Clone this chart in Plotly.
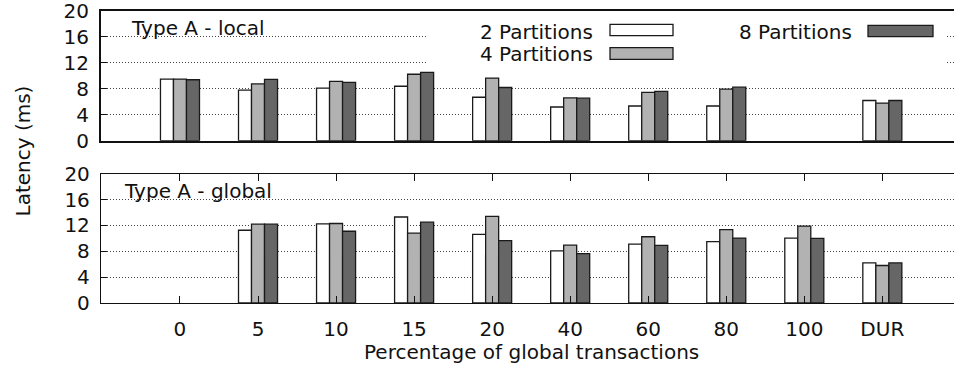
import plotly.graph_objects as go

# Categories (percentage of global transactions) and latency per partition count
categories = ["0", "5", "10", "15", "20", "40", "60", "80", "100", "DUR"]
series_names = ["2 Partitions", "4 Partitions", "8 Partitions"]

local_2 = [9.5, 7.8, 8.1, 8.4, 6.7, 5.2, 5.35, 5.35, None, 6.2]
local_4 = [9.5, 8.75, 9.15, 10.25, 9.65, 6.6, 7.45, 7.95, None, 5.8]
local_8 = [9.4, 9.45, 9.0, 10.55, 8.2, 6.55, 7.6, 8.25, None, 6.2]

global_2 = [None, 11.25, 12.25, 13.3, 10.6, 8.05, 9.1, 9.5, 10.05, 6.2]
global_4 = [None, 12.2, 12.3, 10.8, 13.4, 8.95, 10.25, 11.35, 11.9, 5.8]
global_8 = [None, 12.2, 11.1, 12.5, 9.65, 7.65, 8.9, 10.05, 10.0, 6.2]

y_ticks = [0, 4, 8, 12, 16, 20]

fills = ["#ffffff", "#b2b2b2", "#666666"]
FONT = "DejaVu Sans"
W, H = 954, 379
L, R, T, B = 101, 0, 11, 76
PW, PH = W - L - R, H - T - B


def px_x(px):
    return (px - L) / PW


def px_y(py):
    return (H - B - py) / PH


xs = list(range(len(categories)))
fig = go.Figure()

panels = [
    ([local_2, local_4, local_8], "x", "y"),
    ([global_2, global_4, global_8], "x2", "y2"),
]
for values, xa, ya in panels:
    for name, vals, col in zip(series_names, values, fills):
        fig.add_trace(go.Bar(
            x=xs, y=vals, name=name, xaxis=xa, yaxis=ya,
            marker=dict(color=col, line=dict(color="#1a1a1a", width=1.3)),
            showlegend=False,
        ))

top_dom = [px_y(140.7), 1.0]
bot_dom = [0.0, px_y(173.7)]
x_range = [-1.012, -1.012 + PW / 78.04]

grid = dict(showgrid=True, gridcolor="#444444", gridwidth=1, griddash="1px,2px")
ytick_style = dict(range=[0, 20], tickvals=y_ticks, ticks="inside", ticklen=6,
                   tickcolor="#111", showline=True, linecolor="#111",
                   zeroline=False, tickfont=dict(family=FONT, size=20, color="#111"),
                   ticklabelstandoff=6, ticklabeloverflow="allow", **grid)

fig.update_layout(
    width=W, height=H,
    margin=dict(l=L, r=R, t=T, b=B, pad=0),
    paper_bgcolor="white", plot_bgcolor="white",
    barmode="group", bargap=0.5, bargroupgap=0.0,
    xaxis=dict(domain=[0, 1], range=x_range, anchor="y", showticklabels=False,
               ticks="", showline=True, mirror=True, linecolor="#111", linewidth=2,
               showgrid=False, zeroline=False, tickvals=xs),
    yaxis=dict(domain=top_dom, anchor="x", linewidth=2, **ytick_style),
    xaxis2=dict(domain=[0, 1], range=x_range, anchor="y2", tickvals=xs,
                ticktext=categories, ticks="inside", ticklen=7, tickcolor="#111",
                showline=True, mirror="ticks", linecolor="#111", linewidth=1.3,
                showgrid=False, zeroline=False, ticklabelstandoff=8,
                tickfont=dict(family=FONT, size=20, color="#111")),
    yaxis2=dict(domain=bot_dom, anchor="x2", linewidth=1.3, **ytick_style),
    font=dict(family=FONT, size=20, color="#111"),
)


def dx(px):
    return x_range[0] + (px - L) / 78.04


def dy_top(py):
    return (140.7 - py) / 6.485


# Opaque key background that hides the grid behind the key
fig.add_shape(type="rect", xref="x", yref="y", layer="between",
              x0=dx(428), x1=dx(947), y0=dy_top(75), y1=20,
              fillcolor="white", line=dict(width=0))

# Key entries: label right-aligned, swatch to its right
key = [
    (series_names[0], 595, 31.5, 610, 673, 24.3, 35.7, fills[0]),
    (series_names[1], 595, 54.5, 610, 673, 47.7, 59.3, fills[1]),
    (series_names[2], 854, 31.5, 868, 933, 25.3, 36.7, fills[2]),
]
for text, tx, ty, x0, x1, y0, y1, col in key:
    fig.add_annotation(text=text, xref="paper", yref="paper", x=px_x(tx), y=px_y(ty),
                       xanchor="right", yanchor="middle", showarrow=False,
                       font=dict(family=FONT, size=20, color="#111"))
    fig.add_shape(type="rect", xref="paper", yref="paper",
                  x0=px_x(x0), x1=px_x(x1), y0=px_y(y1), y1=px_y(y0),
                  fillcolor=col, line=dict(color="#1a1a1a", width=1.3))

# Panel titles
for text, py in [("Type A - local", 28.5), ("Type A - global", 190.5)]:
    fig.add_annotation(text=text, xref="paper", yref="paper", x=px_x(198), y=px_y(py),
                       xanchor="center", yanchor="middle", showarrow=False,
                       font=dict(family=FONT, size=20, color="#111"))

# Axis titles
fig.add_annotation(text="Latency (ms)", xref="paper", yref="paper",
                   x=px_x(22.5), y=px_y(151), textangle=-90,
                   xanchor="center", yanchor="middle", showarrow=False,
                   font=dict(family=FONT, size=20, color="#111"))
fig.add_annotation(text="Percentage of global transactions", xref="paper", yref="paper",
                   x=px_x(531), y=px_y(351.5), xanchor="center", yanchor="middle",
                   showarrow=False, font=dict(family=FONT, size=20, color="#111"))

fig.write_html("out.html")
